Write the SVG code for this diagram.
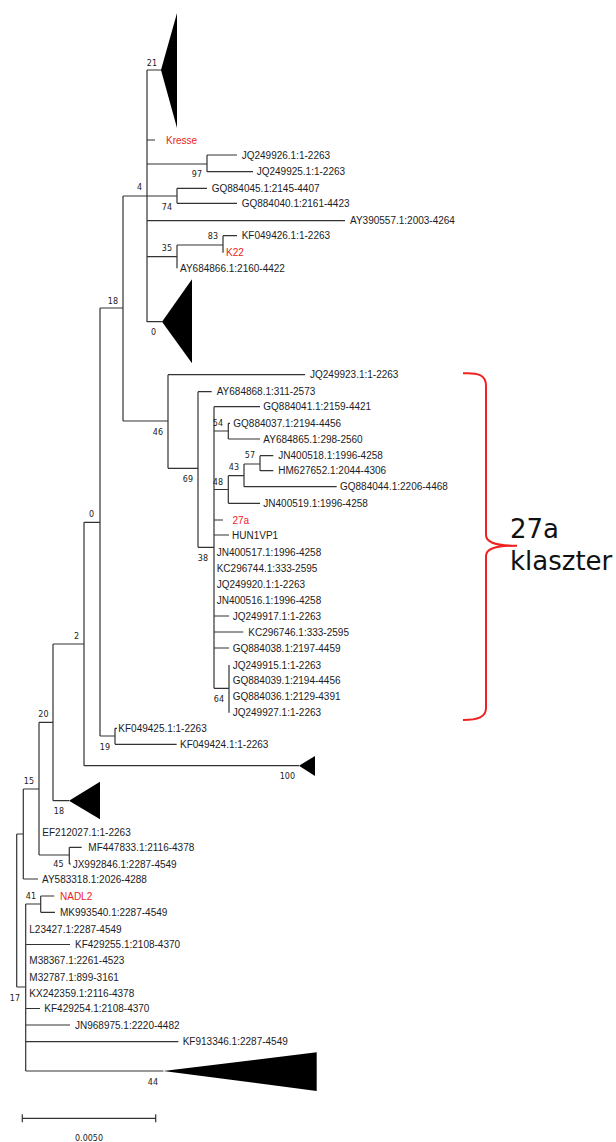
<svg xmlns="http://www.w3.org/2000/svg" width="616" height="1142" viewBox="0 0 616 1142">
<style>
.leaf{font-family:"Liberation Sans",Arial,sans-serif;font-size:10px;fill:#1c1c24}
.red{fill:#ee2222}
.bs{font-family:"DejaVu Sans",Verdana,sans-serif;font-size:8px;fill:#222;text-anchor:end}
.br{stroke:#333;stroke-width:1.2;fill:none}
.tri{fill:#000;stroke:none}
.big{font-family:"DejaVu Sans",sans-serif;font-size:26px;fill:#111}
</style>
<rect width="616" height="1142" fill="#fff"/>
<g id="connectors" class="br">
<path d="M147,70V322M147,70H161M147,140H155M147,164H207M207,155V171.7M207,155H237M207,171.7H253M147,196H177M177,188.3V203.3M177,188.3H207M177,203.3H237M147,220.7H345M147,256.7H177M177,245V268.3M177,245H223M223,235.7V252.7M223,235.7H237M147,321.7H162"/>
<path d="M123,196H147M123,196V421M100,308H123M100,308V736M84,522.3H100M84,522.3V765.7"/>
<path d="M123,421H168M168,374.7V468.3M168,374.7H305M168,468.3H198M198,391.7V547.3M198,391.7H211.7M198,547.3H214M214,406.7V688.3M214,406.7H260"/>
<path d="M214,431H228.3M228.3,423.3V439M228.3,423.3H230M228.3,439H260M214,489.5H228.3M228.3,475.7V503.3M228.3,475.7H244M244,464V486.7M244,464H260M260,455.7V470.7M260,455.7H273.3M260,470.7H273.3M244,486.7H336.7M228.3,503.3H260"/>
<path d="M214,520H223M214,535H229M214,616H229M214,632H243.3M214,648H229M214,688.3H229M229,665V712.7"/>
<path d="M100,736H115M115,728.3V744.3M115,728.3H117M115,744.3H176.7M84,765.7H299"/>
<path d="M53,644H84M53,644V800.7M53,800.7H69M39,722.3H53M39,722.3V855M39,855H69.3M69.3,847.3V864M69.3,847.3H81.7M69.3,864H71M23.3,789H39M23.3,789V879M23.3,879H38M16.7,834H23.3M16.7,834V987M16.7,987H25.7"/>
<path d="M25.7,904V1071M25.7,904H40.7M40.7,896V912.3M40.7,896H54.3M40.7,912.3H55M25.7,944.5H70M25.7,1008.5H40M25.7,1025H70M25.7,1041.7H178.3M25.7,1071H163.3"/>
</g>
<g id="clade-21"><polygon class="tri" points="161,70 177,13 177,128"/><text class="bs" x="157" y="66">21</text></g>
<g id="leaf-Kresse"><text class="leaf red" x="166" y="143.5">Kresse</text></g>
<g id="node-97"><text class="bs" x="202" y="177">97</text></g>
<g id="leaf-JQ249926"><text class="leaf" x="241.7" y="158.5">JQ249926.1:1-2263</text></g>
<g id="leaf-JQ249925"><text class="leaf" x="256.7" y="175.2">JQ249925.1:1-2263</text></g>
<g id="node-4"><text class="bs" x="142" y="190">4</text></g>
<g id="node-74"><text class="bs" x="172" y="209.5">74</text></g>
<g id="leaf-GQ884045"><text class="leaf" x="211.7" y="191.8">GQ884045.1:2145-4407</text></g>
<g id="leaf-GQ884040"><text class="leaf" x="241.7" y="206.8">GQ884040.1:2161-4423</text></g>
<g id="leaf-AY390557"><text class="leaf" x="350" y="224.2">AY390557.1:2003-4264</text></g>
<g id="node-35"><text class="bs" x="172" y="251">35</text></g>
<g id="node-83"><text class="bs" x="218" y="238.5">83</text></g>
<g id="leaf-KF049426"><text class="leaf" x="241.7" y="239.2">KF049426.1:1-2263</text></g>
<g id="leaf-K22"><text class="leaf red" x="226" y="256.2">K22</text></g>
<g id="leaf-AY684866"><text class="leaf" x="180" y="271.8">AY684866.1:2160-4422</text></g>
<g id="clade-0a"><polygon class="tri" points="162,321.7 192,279.3 192,363.3"/><text class="bs" x="156" y="335">0</text></g>
<g id="node-18a"><text class="bs" x="118" y="304">18</text></g>
<g id="node-46"><text class="bs" x="163" y="434.5">46</text></g>
<g id="leaf-JQ249923"><text class="leaf" x="310" y="378.2">JQ249923.1:1-2263</text></g>
<g id="node-69"><text class="bs" x="193" y="482">69</text></g>
<g id="leaf-AY684868"><text class="leaf" x="216.7" y="395.2">AY684868.1:311-2573</text></g>
<g id="node-38"><text class="bs" x="208" y="561">38</text></g>
<g id="leaf-GQ884041"><text class="leaf" x="263.3" y="410.2">GQ884041.1:2159-4421</text></g>
<g id="node-54"><text class="bs" x="223" y="426">54</text></g>
<g id="leaf-GQ884037"><text class="leaf" x="233.3" y="426.8">GQ884037.1:2194-4456</text></g>
<g id="leaf-AY684865"><text class="leaf" x="263.3" y="442.5">AY684865.1:298-2560</text></g>
<g id="node-48"><text class="bs" x="223" y="484.5">48</text></g>
<g id="node-43"><text class="bs" x="239" y="470">43</text></g>
<g id="node-57"><text class="bs" x="255" y="458">57</text></g>
<g id="leaf-JN400518"><text class="leaf" x="278.3" y="459.2">JN400518.1:1996-4258</text></g>
<g id="leaf-HM627652"><text class="leaf" x="278.3" y="474.2">HM627652.1:2044-4306</text></g>
<g id="leaf-GQ884044"><text class="leaf" x="340" y="490.2">GQ884044.1:2206-4468</text></g>
<g id="leaf-JN400519"><text class="leaf" x="263.3" y="506.8">JN400519.1:1996-4258</text></g>
<g id="leaf-27a"><text class="leaf red" x="232.5" y="523.5">27a</text></g>
<g id="leaf-HUN1VP1"><text class="leaf" x="232" y="538.5">HUN1VP1</text></g>
<g id="leaf-JN400517"><text class="leaf" x="216.7" y="555.5">JN400517.1:1996-4258</text></g>
<g id="leaf-KC296744"><text class="leaf" x="216.7" y="571.5">KC296744.1:333-2595</text></g>
<g id="leaf-JQ249920"><text class="leaf" x="216.7" y="587.5">JQ249920.1:1-2263</text></g>
<g id="leaf-JN400516"><text class="leaf" x="216.7" y="603.5">JN400516.1:1996-4258</text></g>
<g id="leaf-JQ249917"><text class="leaf" x="232.7" y="619.5">JQ249917.1:1-2263</text></g>
<g id="leaf-KC296746"><text class="leaf" x="248.3" y="635.5">KC296746.1:333-2595</text></g>
<g id="leaf-GQ884038"><text class="leaf" x="232.7" y="651.5">GQ884038.1:2197-4459</text></g>
<g id="node-64"><text class="bs" x="224" y="702">64</text></g>
<g id="leaf-JQ249915"><text class="leaf" x="232.7" y="668.5">JQ249915.1:1-2263</text></g>
<g id="leaf-GQ884039"><text class="leaf" x="232.7" y="684.2">GQ884039.1:2194-4456</text></g>
<g id="leaf-GQ884036"><text class="leaf" x="232.7" y="699.8">GQ884036.1:2129-4391</text></g>
<g id="leaf-JQ249927"><text class="leaf" x="232.7" y="716.2">JQ249927.1:1-2263</text></g>
<g id="node-0b"><text class="bs" x="94" y="517">0</text></g>
<g id="node-2"><text class="bs" x="79" y="638.5">2</text></g>
<g id="node-19"><text class="bs" x="110" y="749.5">19</text></g>
<g id="leaf-KF049425"><text class="leaf" x="118.3" y="731.8">KF049425.1:1-2263</text></g>
<g id="leaf-KF049424"><text class="leaf" x="180" y="747.8">KF049424.1:1-2263</text></g>
<g id="clade-100"><polygon class="tri" points="299,765.7 315,756 315,776"/><text class="bs" x="295" y="779">100</text></g>
<g id="node-20"><text class="bs" x="48.5" y="717">20</text></g>
<g id="clade-18"><polygon class="tri" points="69,800.7 100,781.7 100,819.3"/><text class="bs" x="64" y="814">18</text></g>
<g id="node-15"><text class="bs" x="34" y="784">15</text></g>
<g id="leaf-EF212027"><text class="leaf" x="42.3" y="835.8">EF212027.1:1-2263</text></g>
<g id="node-45"><text class="bs" x="63.5" y="867">45</text></g>
<g id="leaf-MF447833"><text class="leaf" x="88.3" y="850.8">MF447833.1:2116-4378</text></g>
<g id="leaf-JX992846"><text class="leaf" x="72.7" y="867.5">JX992846.1:2287-4549</text></g>
<g id="leaf-AY583318"><text class="leaf" x="42" y="882.5">AY583318.1:2026-4288</text></g>
<g id="node-17"><text class="bs" x="20" y="1000.5">17</text></g>
<g id="node-41"><text class="bs" x="36" y="899">41</text></g>
<g id="leaf-NADL2"><text class="leaf red" x="60" y="899.5">NADL2</text></g>
<g id="leaf-MK993540"><text class="leaf" x="60" y="915.8">MK993540.1:2287-4549</text></g>
<g id="leaf-L23427"><text class="leaf" x="29.3" y="932.5">L23427.1:2287-4549</text></g>
<g id="leaf-KF429255"><text class="leaf" x="75" y="948">KF429255.1:2108-4370</text></g>
<g id="leaf-M38367"><text class="leaf" x="29.3" y="964.2">M38367.1:2261-4523</text></g>
<g id="leaf-M32787"><text class="leaf" x="29.3" y="980.5">M32787.1:899-3161</text></g>
<g id="leaf-KX242359"><text class="leaf" x="29.3" y="996.5">KX242359.1:2116-4378</text></g>
<g id="leaf-KF429254"><text class="leaf" x="44.3" y="1012">KF429254.1:2108-4370</text></g>
<g id="leaf-JN968975"><text class="leaf" x="75" y="1028.5">JN968975.1:2220-4482</text></g>
<g id="leaf-KF913346"><text class="leaf" x="182.7" y="1045.2">KF913346.1:2287-4549</text></g>
<g id="clade-44"><polygon class="tri" points="163.3,1071 316.7,1052.3 316.7,1091"/><text class="bs" x="158" y="1085">44</text></g>
<g id="scale-bar">
<path class="br" d="M22.3,1118.3H155.7M22.3,1114.3V1122.3M155.7,1114.3V1122.3"/>
<text class="bs" x="89" y="1141" style="text-anchor:middle">0.0050</text>
</g>
<g id="cluster-27a">
<path d="M463,373.3C478,372.5 486,375 486,386L486,535C486,542 494,545.7 517,545.7C494,545.7 486,549 486,556L486,708C486,717 478,720 463,720" fill="none" stroke="#ee2222" stroke-width="2"/>
<text class="big" x="510" y="538">27a</text>
<text class="big" x="510" y="570">klaszter</text>
</g>
</svg>
